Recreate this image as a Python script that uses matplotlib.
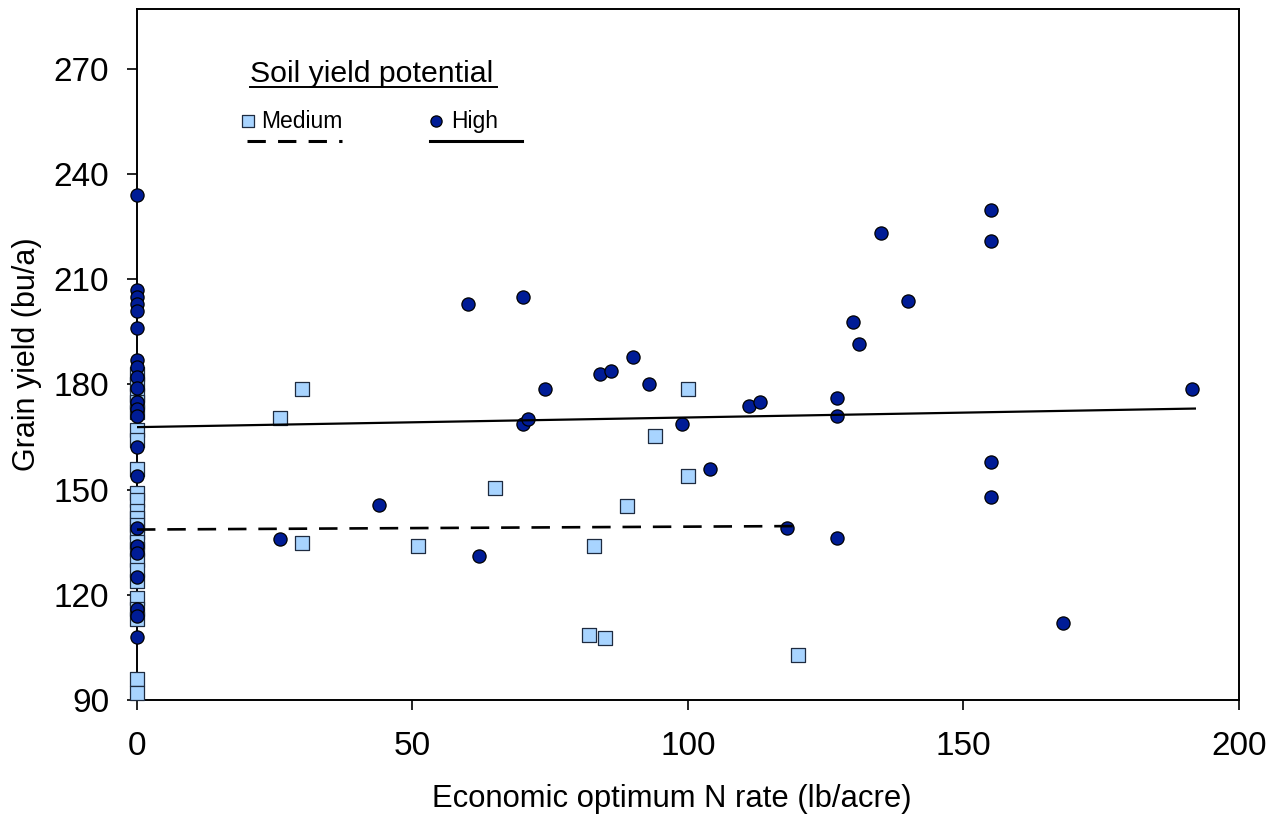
import numpy as np
import matplotlib.pyplot as plt

plt.rcParams['font.family'] = ['Liberation Sans', 'DejaVu Sans']

# Medium soil yield potential (squares)
med_x = [0] * 24 + [26, 30, 30, 51, 65, 82, 83, 85, 89, 94, 100, 100, 120]
med_y = [183, 180, 177, 175, 172, 167, 164, 156, 149, 147, 144, 142, 140, 138,
         135, 133, 130, 127, 124, 119, 116, 113, 96, 92,
         170.4, 178.7, 134.8, 134, 150.5, 108.5, 134, 107.7, 145.3, 165.3,
         178.7, 153.9, 102.8]

# High soil yield potential (circles)
high_x = [0] * 22 + [26, 44, 60, 62, 70, 70, 71, 74, 84, 86, 90, 93, 99, 104,
                     111, 113, 118, 127, 127, 127, 130, 131, 135, 140,
                     155, 155, 155, 155, 168, 191.5]
high_y = [234, 207, 205, 203, 201, 196, 187, 185, 182, 179, 175, 173, 171, 162,
          154, 139, 134, 132, 125, 116, 114, 108,
          136, 145.5, 203, 131, 205, 168.7, 170, 178.7, 183, 183.8, 187.8, 180,
          168.7, 156, 173.9, 175, 139, 176, 171, 136.2, 197.8, 191.5, 223.2,
          203.8, 229.8, 220.9, 157.9, 147.9, 112, 178.7]

# trend lines: (x start, x end), intercept, slope
med_fit_x = [0, 120]
med_fit = (138.6, 0.0083)
high_fit_x = [0, 192]
high_fit = (167.8, 0.0276)

fig = plt.figure(figsize=(12.74, 8.25), dpi=100)
ax = fig.add_axes([0.1075, 0.1515, 0.865, 0.8375])

ax.scatter(med_x, med_y, marker='s', s=105, facecolor='#a8d4ff',
           edgecolor='#1e2b40', linewidth=0.9, zorder=3, clip_on=False)
ax.scatter(high_x, high_y, marker='o', s=90, facecolor='#001c96',
           edgecolor='black', linewidth=0.9, zorder=4, clip_on=False)

mx = np.array(med_fit_x)
hx = np.array(high_fit_x)
ax.plot(mx, med_fit[0] + med_fit[1] * mx, color='black', lw=1.9,
        dashes=(7, 4.5), zorder=5)
ax.plot(hx, high_fit[0] + high_fit[1] * hx, color='black', lw=1.6, zorder=5)

ax.set_xlim(0, 200)
ax.set_ylim(90, 287)
ax.set_xticks([0, 50, 100, 150, 200])
ax.set_yticks([90, 120, 150, 180, 210, 240, 270])
ax.tick_params(direction='out', length=7, width=1.2, labelsize=24)
ax.tick_params(axis='x', pad=15)
ax.tick_params(axis='y', pad=13)
for sp in ax.spines.values():
    sp.set_linewidth(1.4)
ax.set_xlabel('Economic optimum N rate (lb/acre)', fontsize=22.3, labelpad=16,
              x=0.485)
ax.set_ylabel('Grain yield (bu/a)', fontsize=22, labelpad=8)

# legend drawn by hand
tr = ax.transAxes
ax.text(0.103, 0.906, 'Soil yield potential', transform=tr, fontsize=21.8,
        ha='left', va='center')
ax.plot([0.103, 0.327], [0.8875, 0.8875], transform=tr, color='black', lw=1.4)
ax.scatter([0.101], [0.838], transform=tr, marker='s', s=80,
           facecolor='#a8d4ff', edgecolor='#1e2b40', linewidth=0.9)
ax.text(0.113, 0.838, 'Medium', transform=tr, fontsize=16.5, ha='left',
        va='center')
ax.plot([0.100, 0.186], [0.8085, 0.8085], transform=tr, color='black',
        lw=2.2, dashes=(6, 4))
ax.scatter([0.271], [0.838], transform=tr, marker='o', s=65,
           facecolor='#001c96', edgecolor='black', linewidth=0.9)
ax.text(0.285, 0.838, 'High', transform=tr, fontsize=16.5, ha='left',
        va='center')
ax.plot([0.266, 0.349], [0.8085, 0.8085], transform=tr, color='black', lw=2.2)

fig.savefig('out.png', dpi=100)
